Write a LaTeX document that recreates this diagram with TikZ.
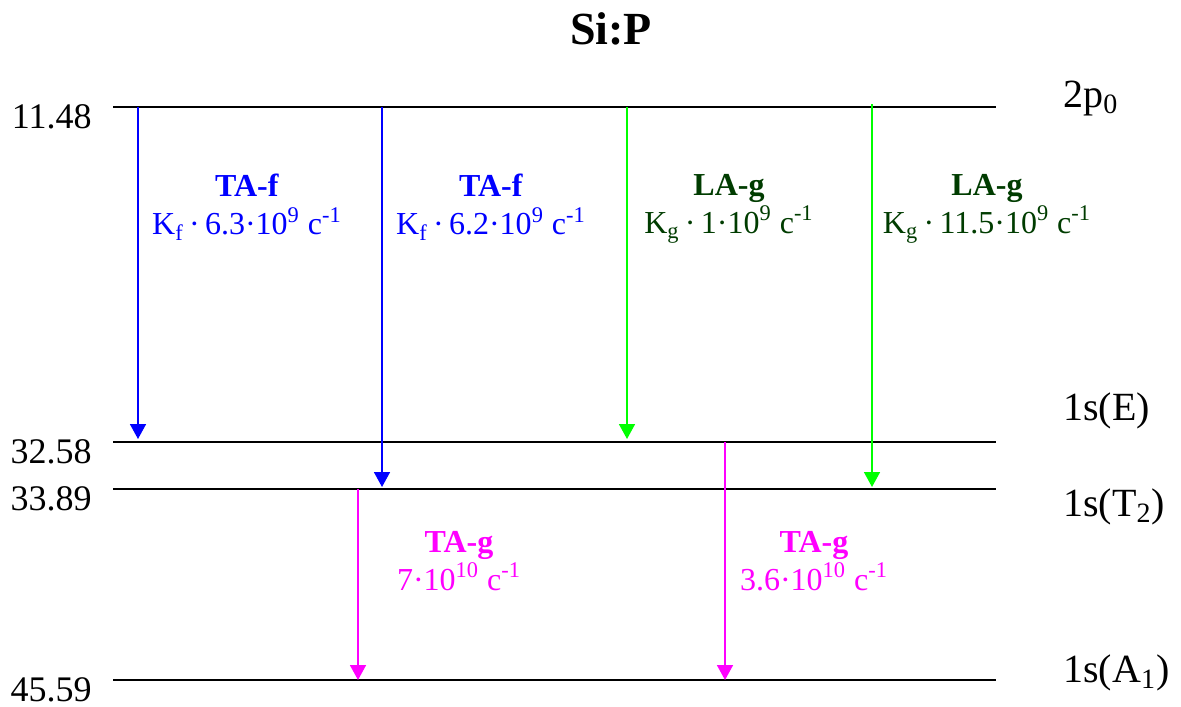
\documentclass[tikz,border=0pt]{standalone}
\usepackage{fontspec}
\setmainfont{Liberation Serif}
\usetikzlibrary{arrows.meta,calc}

\definecolor{fblue}{RGB}{0,0,255}
\definecolor{glime}{RGB}{0,255,0}
\definecolor{gdark}{RGB}{0,60,0}
\definecolor{tmag}{RGB}{255,0,255}

\begin{document}
\begin{tikzpicture}[x=0.5pt,y=-0.5pt,
  level/.style={line width=1pt},
  num/.style={anchor=base east,inner sep=0pt,font=\fontsize{18}{20}\selectfont},
  term/.style={anchor=base west,inner sep=0pt,font=\fontsize{20}{23}\selectfont},
  tr/.style={-{Triangle[length=7.5pt,width=8pt]},line width=0.85pt},
  rate/.style={align=center,anchor=north,inner sep=0pt,
               font=\fontsize{16}{19}\selectfont}]

  \useasboundingbox (0,0) rectangle (1181,706);

  \node[anchor=base,inner sep=0pt,font=\fontsize{23}{26}\selectfont\bfseries]
    (title) at (611,45) {Si:P};

  % levels
  \coordinate (L2p) at (113,107); \coordinate (R2p) at (996,107);
  \coordinate (LE)  at (113,442); \coordinate (RE)  at (996,442);
  \coordinate (LT)  at (113,489); \coordinate (RT)  at (996,489);
  \coordinate (LA)  at (113,680); \coordinate (RA)  at (996,680);
  \draw[level] (L2p) -- (R2p);
  \draw[level] (LE) -- (RE);
  \draw[level] (LT) -- (RT);
  \draw[level] (LA) -- (RA);

  \node[num] (v2p) at (92,128) {11.48};
  \node[num] (vE)  at (92,463) {32.58};
  \node[num] (vT)  at (92,510) {33.89};
  \node[num] (vA)  at (92,701) {45.59};

  \node[term] (t2p) at (1063,107) {2p\textsubscript{0}};
  \node[term] (tE)  at (1063,420) {1s(E)};
  \node[term] (tT)  at (1063,516) {1s(T\textsubscript{2})};
  \node[term] (tA)  at (1063,682) {1s(A\textsubscript{1})};

  % transitions
  \coordinate (xa) at (138,0); \coordinate (xb) at (382,0);
  \coordinate (xc) at (627,0); \coordinate (xd) at (872,0);
  \coordinate (xe) at (358,0); \coordinate (xf) at (725,0);
  \draw[tr,fblue,shorten >=1.5pt] (xa |- L2p) -- (xa |- LE);
  \draw[tr,fblue,shorten >=1pt] (xb |- L2p) -- (xb |- LT);
  \draw[tr,glime,shorten >=1.5pt] (xc |- L2p) -- (xc |- LE);
  \draw[tr,glime,shorten >=1pt] ($(xd |- L2p)+(0,-3)$) -- (xd |- LT);
  \draw[tr,tmag] (xe |- LT) -- (xe |- LA);
  \draw[tr,tmag] (xf |- LE) -- (xf |- LA);

  \node[rate,text=fblue] (fa) at (247,174)
    {\textbf{TA-f}\\K\textsubscript{f}\,·\,6.3·10\textsuperscript{9} c\textsuperscript{-1}};
  \node[rate,text=fblue] (fb) at (491,174)
    {\textbf{TA-f}\\K\textsubscript{f}\,·\,6.2·10\textsuperscript{9} c\textsuperscript{-1}};
  \node[rate,text=gdark] (ga) at (729,174)
    {\textbf{LA-g}\\K\textsubscript{g}\,·\,1·10\textsuperscript{9} c\textsuperscript{-1}};
  \node[rate,text=gdark] (gb) at (987,174)
    {\textbf{LA-g}\\K\textsubscript{g}\,·\,11.5·10\textsuperscript{9} c\textsuperscript{-1}};
  \node[rate,text=tmag] (ma) at (459,531)
    {\textbf{TA-g}\\7·10\textsuperscript{10} c\textsuperscript{-1}};
  \node[rate,text=tmag] (mb) at (814,531)
    {\textbf{TA-g}\\3.6·10\textsuperscript{10} c\textsuperscript{-1}};
\end{tikzpicture}
\end{document}
